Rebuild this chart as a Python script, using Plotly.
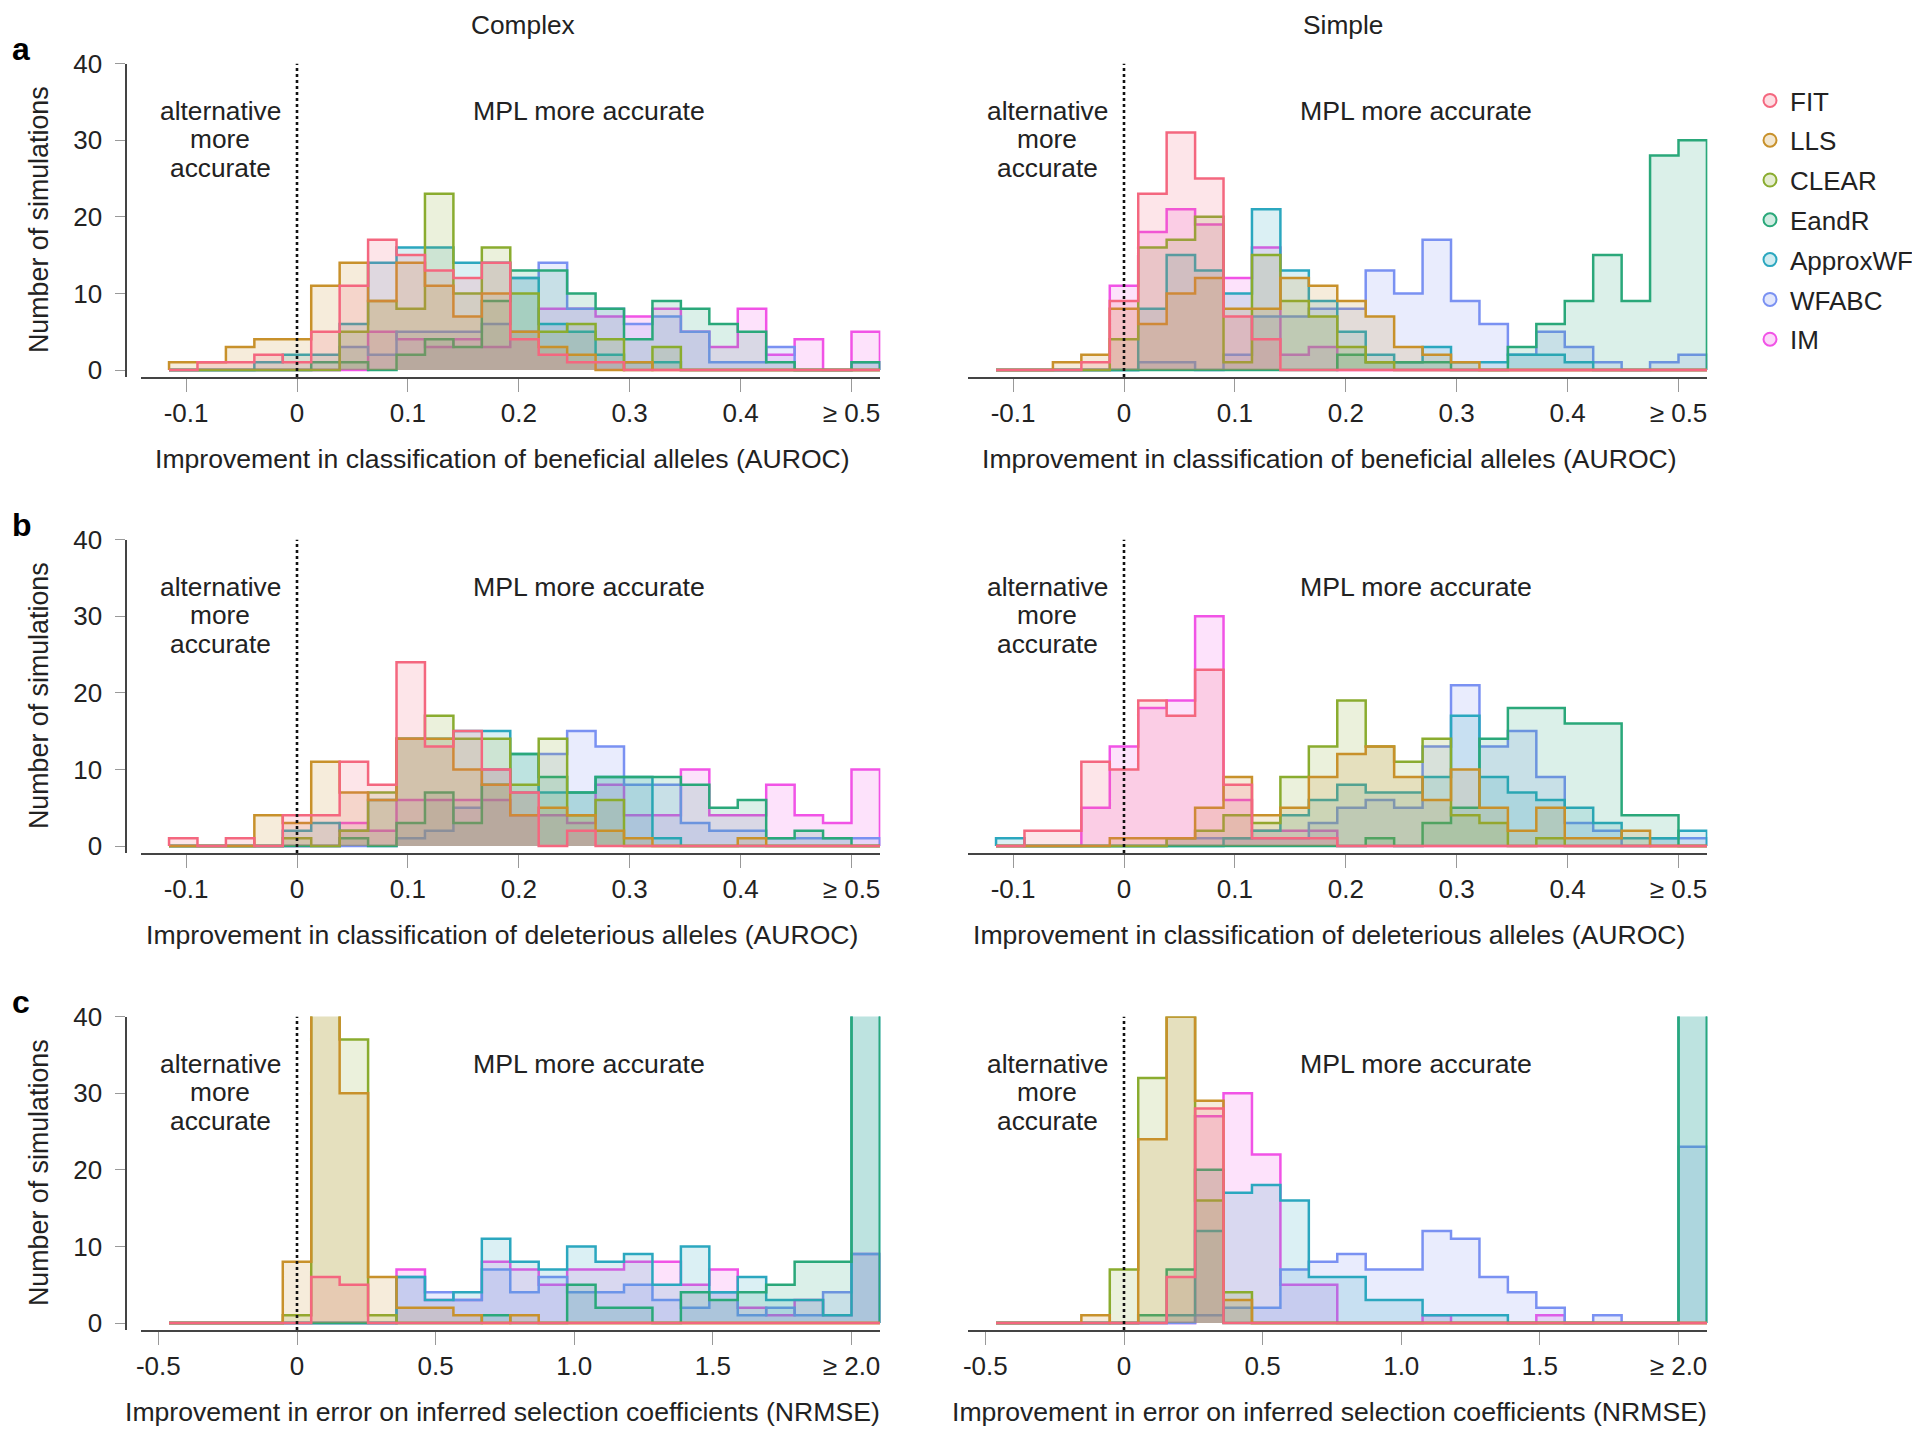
import plotly.graph_objects as go

# ---------------- data ----------------
METHODS = ["FIT", "LLS", "CLEAR", "EandR", "ApproxWF", "WFABC", "IM"]
COLORS = {"FIT": "#f4677f", "LLS": "#c8912b", "CLEAR": "#8aac2f", "EandR": "#2aa87a",
          "ApproxWF": "#2ba7bf", "WFABC": "#7a91f2", "IM": "#f153e6"}

# 25 bins; bin i centred at (i-4)/39 (AUROC) or 4*(i-4)/39 (NRMSE)
N_BINS = 25

# panel a, Complex (beneficial AUROC)
a_complex_FIT      = [0,1,1,2,1,5,11,17,15,13,12,14,4,2,1,1,0,0,0,0,0,0,0,0,0]
a_complex_LLS      = [1,1,3,4,4,11,14,9,14,11,7,10,5,3,2,0,1,0,0,0,0,0,0,0,0]
a_complex_CLEAR    = [0,0,0,0,0,0,5,9,8,23,10,16,10,5,6,4,0,3,0,0,0,0,0,0,0]
a_complex_EandR    = [0,0,0,0,0,1,1,0,2,4,3,9,13,13,10,8,4,9,8,6,5,1,0,0,1]
a_complex_ApproxWF = [0,0,0,1,2,2,6,14,16,16,14,14,12,6,5,2,1,1,0,0,0,0,0,0,0]
a_complex_WFABC    = [0,0,0,0,0,0,3,2,5,5,5,6,12,14,8,8,6,7,5,1,1,3,0,0,1]
a_complex_IM       = [0,0,0,0,0,0,0,5,4,3,4,3,5,8,8,7,7,8,5,3,8,2,4,0,5]

# panel a, Simple
a_simple_FIT      = [0,0,0,1,9,23,31,25,7,4,0,0,0,0,0,0,0,0,0,0,0,0,0,0,0]
a_simple_LLS      = [0,0,1,2,8,6,10,12,8,8,12,11,9,7,3,2,1,0,0,0,0,0,0,0,0]
a_simple_CLEAR    = [0,0,0,0,4,16,17,20,1,15,9,7,3,1,0,0,0,0,0,0,0,0,0,0,0]
a_simple_EandR    = [0,0,0,0,0,0,0,0,0,0,0,0,2,1,1,1,0,0,3,6,9,15,9,28,30]
a_simple_ApproxWF = [0,0,0,0,0,8,15,13,10,21,13,9,5,2,1,3,1,1,2,2,1,0,0,0,0]
a_simple_WFABC    = [0,0,0,0,0,1,1,0,2,7,7,8,8,13,10,17,9,6,2,5,3,1,0,1,2]
a_simple_IM       = [0,0,0,0,11,18,21,19,12,16,2,3,0,0,0,0,0,0,0,0,0,0,0,0,0]

# panel b, Complex (deleterious AUROC)
b_complex_FIT      = [1,0,1,0,4,4,11,8,24,13,15,10,7,0,2,0,0,0,0,0,0,0,0,0,0]
b_complex_LLS      = [0,0,0,4,3,11,7,6,14,14,10,8,4,5,4,2,1,0,0,0,1,0,0,0,0]
b_complex_CLEAR    = [0,0,0,0,1,0,2,7,14,17,14,14,8,14,4,6,0,0,0,0,0,0,0,0,0]
b_complex_EandR    = [0,0,0,0,0,0,1,0,3,7,3,8,12,9,7,9,9,9,8,5,6,1,2,1,0]
b_complex_ApproxWF = [0,0,0,0,2,3,2,6,14,14,15,15,12,7,7,9,9,1,0,0,0,0,0,0,0]
b_complex_WFABC    = [0,0,0,0,0,0,0,0,1,2,5,10,7,12,15,13,8,8,3,2,2,1,1,1,1]
b_complex_IM       = [0,0,0,0,0,0,3,2,6,6,6,6,4,4,3,8,4,4,10,4,4,8,4,3,10]

# panel b, Simple
b_simple_FIT      = [0,2,2,11,10,19,17,23,8,1,1,1,0,0,0,0,0,0,0,0,0,0,0,0,0]
b_simple_LLS      = [0,0,0,0,1,1,1,5,9,4,5,9,12,13,9,6,10,5,2,5,1,1,2,0,0]
b_simple_CLEAR    = [0,0,0,0,0,0,1,2,4,3,9,13,19,13,11,14,4,3,0,1,0,0,0,0,0]
b_simple_EandR    = [0,0,0,0,0,0,0,0,0,0,0,0,0,1,0,3,5,14,18,18,16,16,4,4,0]
b_simple_ApproxWF = [1,0,0,0,0,0,0,0,1,2,4,6,8,7,7,9,17,9,7,6,5,3,1,1,2]
b_simple_WFABC    = [0,0,0,0,0,0,1,1,1,1,1,3,5,6,5,13,21,13,15,9,3,2,0,1,1]
b_simple_IM       = [0,0,0,5,13,18,19,30,6,2,2,2,0,0,0,0,0,0,0,0,0,0,0,0,0]

# panel c, Complex (NRMSE)
c_complex_FIT      = [0,0,0,0,0,6,5,0,0,0,0,0,0,0,0,0,0,0,0,0,0,0,0,0,0]
c_complex_LLS      = [0,0,0,0,8,48,30,6,2,2,1,0,1,0,0,0,0,0,0,0,0,0,0,0,0]
c_complex_CLEAR    = [0,0,0,0,1,45,37,1,0,0,0,0,0,0,0,0,0,0,0,0,0,0,0,0,0]
c_complex_EandR    = [0,0,0,0,0,0,0,0,0,0,0,1,0,0,5,2,2,0,4,3,4,5,8,8,60]
c_complex_ApproxWF = [0,0,0,0,0,0,0,0,6,3,4,11,8,7,10,8,9,5,10,4,6,3,3,1,48]
c_complex_WFABC    = [0,0,0,0,0,0,0,0,6,4,3,7,4,6,4,4,5,3,2,4,1,2,1,4,9]
c_complex_IM       = [0,0,0,0,0,0,0,0,7,3,3,8,7,5,7,7,8,8,5,7,2,1,3,1,9]

# panel c, Simple
c_simple_FIT      = [0,0,0,0,0,0,6,28,0,0,0,0,0,0,0,0,0,0,0,0,0,0,0,0,0]
c_simple_LLS      = [0,0,0,1,0,24,40,29,3,0,0,0,0,0,0,0,0,0,0,0,0,0,0,0,0]
c_simple_CLEAR    = [0,0,0,0,7,32,40,16,4,0,0,0,0,0,0,0,0,0,0,0,0,0,0,0,0]
c_simple_EandR    = [0,0,0,0,0,1,7,20,0,0,0,0,0,0,0,0,0,0,0,0,0,0,0,0,60]
c_simple_ApproxWF = [0,0,0,0,0,0,1,12,17,18,16,6,6,3,3,1,1,1,0,0,0,0,0,0,50]
c_simple_WFABC    = [0,0,0,0,0,0,0,1,2,2,7,8,9,7,7,12,11,6,4,2,0,1,0,0,23]
c_simple_IM       = [0,0,0,0,0,0,0,27,30,22,5,5,0,0,0,1,0,0,0,1,0,0,0,0,0]

auroc_tickvals = [-0.1, 0, 0.1, 0.2, 0.3, 0.4, 0.5]
auroc_ticktext = ["-0.1", "0", "0.1", "0.2", "0.3", "0.4", "\u2265 0.5"]
nrmse_tickvals = [-0.5, 0, 0.5, 1.0, 1.5, 2.0]
nrmse_ticktext = ["-0.5", "0", "0.5", "1.0", "1.5", "\u2265 2.0"]
y_tickvals = [0, 10, 20, 30, 40]

xlabels = ["Improvement in classification of beneficial alleles (AUROC)",
           "Improvement in classification of deleterious alleles (AUROC)",
           "Improvement in error on inferred selection coefficients (NRMSE)"]
col_titles = ["Complex", "Simple"]
panel_letters = ["a", "b", "c"]

panels = {
    (0, 0): [a_complex_FIT, a_complex_LLS, a_complex_CLEAR, a_complex_EandR, a_complex_ApproxWF, a_complex_WFABC, a_complex_IM],
    (0, 1): [a_simple_FIT, a_simple_LLS, a_simple_CLEAR, a_simple_EandR, a_simple_ApproxWF, a_simple_WFABC, a_simple_IM],
    (1, 0): [b_complex_FIT, b_complex_LLS, b_complex_CLEAR, b_complex_EandR, b_complex_ApproxWF, b_complex_WFABC, b_complex_IM],
    (1, 1): [b_simple_FIT, b_simple_LLS, b_simple_CLEAR, b_simple_EandR, b_simple_ApproxWF, b_simple_WFABC, b_simple_IM],
    (2, 0): [c_complex_FIT, c_complex_LLS, c_complex_CLEAR, c_complex_EandR, c_complex_ApproxWF, c_complex_WFABC, c_complex_IM],
    (2, 1): [c_simple_FIT, c_simple_LLS, c_simple_CLEAR, c_simple_EandR, c_simple_ApproxWF, c_simple_WFABC, c_simple_IM],
}

# ---------------- geometry (screen pixels) ----------------
W, H = 1920, 1431
PAGE_OFFSET = 8                      # page margin around the figure
FONT = "Liberation Sans, Arial, Helvetica, sans-serif"
TXT = "#222222"
ROW_ZERO = [370, 846, 1323]          # pixel y of count 0
PPC = 7.66                           # pixels per count
COL_ZERO = [297, 1124]               # pixel x of value 0
PPU_AUROC = 1109.0                   # pixels per unit (rows a,b)
Y_BOTTOM = -0.9
X_RANGE_AUROC = [-0.141, 0.526]
YAXIS_PX = COL_ZERO[0] - 0.154 * PPU_AUROC
TITLE_X = [523, 1343]


def rgba(hexc, a):
    h = hexc.lstrip("#")
    return "rgba(%d,%d,%d,%.3f)" % (int(h[0:2], 16), int(h[2:4], 16), int(h[4:6], 16), a)


def pxx(x):
    return (x - PAGE_OFFSET) / W


def pxy(y):
    return 1 - (y - PAGE_OFFSET) / H


fig = go.Figure()
layout = {}
shapes = []
annotations = []

for r in range(3):
    scale = 4.0 if r == 2 else 1.0
    ppu = PPU_AUROC / scale
    xr = [X_RANGE_AUROC[0] * scale, X_RANGE_AUROC[1] * scale]
    edges = [scale * (k - 4.5) / 39.0 for k in range(N_BINS + 1)]
    zero_y = ROW_ZERO[r]
    top_px = zero_y - 40 * PPC
    bot_px = zero_y - Y_BOTTOM * PPC
    ydom = [pxy(bot_px), pxy(top_px)]
    for c in range(2):
        idx = r * 2 + c + 1
        xa = "x" if idx == 1 else "x%d" % idx
        ya = "y" if idx == 1 else "y%d" % idx
        xdom = [pxx(COL_ZERO[c] + ppu * xr[0]), pxx(COL_ZERO[c] + ppu * xr[1])]
        series = panels[(r, c)]
        # draw in reverse legend order so FIT is on top
        for m in reversed(range(len(METHODS))):
            name = METHODS[m]
            counts = series[m]
            xs = [edges[0]] + edges[:-1] + [edges[-1], edges[-1]]
            ys = [0] + list(counts) + [counts[-1], 0]
            fig.add_trace(go.Scatter(
                x=xs, y=ys, xaxis=xa, yaxis=ya, mode="lines",
                line=dict(color=COLORS[name], width=2.5, shape="hv"),
                fill="tozeroy", fillcolor=rgba(COLORS[name], 0.17),
                showlegend=False, hoverinfo="skip"))
        tv = nrmse_tickvals if r == 2 else auroc_tickvals
        tt = nrmse_ticktext if r == 2 else auroc_ticktext
        xkey = "xaxis" if idx == 1 else "xaxis%d" % idx
        ykey = "yaxis" if idx == 1 else "yaxis%d" % idx
        layout[xkey] = dict(domain=xdom, range=xr, anchor=ya, showline=True,
                            linecolor="#444444", linewidth=1.8, ticks="outside",
                            ticklen=13, tickwidth=1.2, tickcolor="#999999",
                            tickvals=tv, ticktext=tt, showgrid=False, zeroline=False,
                            tickfont=dict(size=26, color=TXT, family=FONT),
                            ticklabelstandoff=-1, automargin=False, fixedrange=True)
        if c == 0:
            layout[ykey] = dict(domain=ydom, range=[Y_BOTTOM, 40], anchor="free",
                                position=pxx(YAXIS_PX),
                                showline=True, linecolor="#444444", linewidth=1.6,
                                ticks="outside", ticklen=10, tickwidth=1.2,
                                tickcolor="#999999", tickvals=y_tickvals,
                                showgrid=False, zeroline=False,
                                tickfont=dict(size=26, color=TXT, family=FONT),
                                ticklabelstandoff=8, automargin=False, fixedrange=True)
        else:
            layout[ykey] = dict(domain=ydom, range=[Y_BOTTOM, 40], anchor=xa,
                                showline=False, showticklabels=False, ticks="",
                                showgrid=False, zeroline=False, automargin=False,
                                fixedrange=True)
        # dotted line at zero
        shapes.append(dict(type="line", xref=xa, yref=ya, x0=0, x1=0, y0=Y_BOTTOM, y1=40,
                           line=dict(color="#111111", width=2.6, dash="dot")))
        # region labels
        alt_x = -0.069 * scale
        mpl_x = 0.263 * scale
        for line_txt, yy in zip(["alternative", "more", "accurate"], [33.8, 30.1, 26.4]):
            annotations.append(dict(xref=xa, yref=ya, x=alt_x, y=yy, text=line_txt,
                                    showarrow=False, xanchor="center", yanchor="middle",
                                    font=dict(size=26.3, color=TXT, family=FONT)))
        annotations.append(dict(xref=xa, yref=ya, x=mpl_x, y=33.8, text="MPL more accurate",
                                showarrow=False, xanchor="center", yanchor="middle",
                                font=dict(size=26.7, color=TXT, family=FONT)))
        # x-axis label
        xc = (COL_ZERO[c] + ppu * (xr[0] + xr[1]) / 2.0) - 8
        annotations.append(dict(xref="paper", yref="paper", x=pxx(xc), y=pxy(zero_y + 89),
                                text=xlabels[r], showarrow=False, xanchor="center",
                                yanchor="middle", font=dict(size=26.6, color=TXT, family=FONT)))
    # y-axis title & panel letter
    annotations.append(dict(xref="paper", yref="paper", x=pxx(39), y=pxy(zero_y - 150),
                            text="Number of simulations", textangle=-90, showarrow=False,
                            xanchor="center", yanchor="middle",
                            font=dict(size=26.8, color=TXT, family=FONT)))
    annotations.append(dict(xref="paper", yref="paper", x=pxx(10), y=pxy(zero_y - 321),
                            text="<b>%s</b>" % panel_letters[r], showarrow=False,
                            xanchor="left", yanchor="middle",
                            font=dict(size=32, color="#000000", family=FONT)))

# column titles (box top flush with the figure's top edge)
for c, t in enumerate(col_titles):
    annotations.append(dict(xref="paper", yref="paper", x=pxx(TITLE_X[c]), y=1.0, text=t,
                            showarrow=False, xanchor="center", yanchor="top",
                            font=dict(size=26.3, color=TXT, family=FONT)))

# legend entries
for name in METHODS:
    fig.add_trace(go.Scatter(x=[None], y=[None], mode="markers", name=name,
                             legendgroup=name,
                             marker=dict(symbol="circle", size=13,
                                         color=rgba(COLORS[name], 0.22),
                                         line=dict(color=COLORS[name], width=2))))

fig.update_layout(
    width=W, height=H,
    margin=dict(l=0, r=0, t=0, b=0, pad=0, autoexpand=False),
    paper_bgcolor="white", plot_bgcolor="white",
    font=dict(family=FONT, size=26, color=TXT),
    shapes=shapes, annotations=annotations,
    showlegend=True,
    legend=dict(x=pxx(1750), y=pxy(77), xanchor="left", yanchor="top",
                font=dict(size=26, color=TXT, family=FONT),
                bgcolor="rgba(0,0,0,0)", borderwidth=0, tracegroupgap=3,
                itemsizing="trace"),
    **layout)

fig.write_html("out.html")
